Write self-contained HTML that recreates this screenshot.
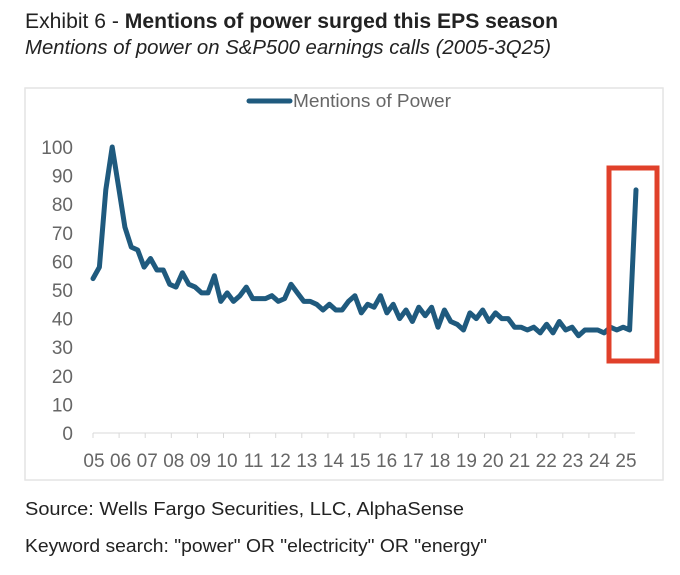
<!DOCTYPE html>
<html><head><meta charset="utf-8"><style>
body{margin:0;background:#fff;width:680px;height:570px;overflow:hidden;font-family:"Liberation Sans",sans-serif}
</style></head><body>
<svg width="680" height="570" xmlns="http://www.w3.org/2000/svg" font-family="Liberation Sans, sans-serif">
<text x="25" y="28" font-size="21" fill="#222" textLength="533" lengthAdjust="spacingAndGlyphs">Exhibit 6 - <tspan font-weight="bold">Mentions of power surged this EPS season</tspan></text>
<text x="25" y="54" font-size="20" font-style="italic" fill="#222" textLength="526" lengthAdjust="spacingAndGlyphs">Mentions of power on S&amp;P500 earnings calls (2005-3Q25)</text>
<rect x="25" y="88" width="638" height="392" fill="none" stroke="#e4e4e4" stroke-width="1.5"/>
<line x1="249" y1="101" x2="290" y2="101" stroke="#1f5a7e" stroke-width="5" stroke-linecap="round"/>
<text x="293" y="107" font-size="18" fill="#666" textLength="158" lengthAdjust="spacingAndGlyphs">Mentions of Power</text>
<g font-size="19" fill="#666" text-anchor="end" id="yl"></g>
<line x1="93" y1="433" x2="635" y2="433" stroke="#d9d9d9" stroke-width="1"/>
<g id="xt" stroke="#d9d9d9"></g>
<g id="xl" font-size="19" fill="#666" text-anchor="middle"></g>
<polyline id="ln" fill="none" stroke="#1f5a7e" stroke-width="5" stroke-linejoin="round" stroke-linecap="round"/>
<rect x="609" y="168" width="48" height="193" fill="none" stroke="#e0402a" stroke-width="5"/>
<text x="25" y="515" font-size="18" fill="#222" textLength="439" lengthAdjust="spacingAndGlyphs">Source: Wells Fargo Securities, LLC, AlphaSense</text>
<text x="25" y="552" font-size="18" fill="#222" textLength="462" lengthAdjust="spacingAndGlyphs">Keyword search: "power" OR "electricity" OR "energy"</text>
</svg>
<script>
var ns="http://www.w3.org/2000/svg";
function y(v){return 433-v*2.86;}
var yl=document.getElementById("yl");
for(var v=0;v<=100;v+=10){var t=document.createElementNS(ns,"text");t.setAttribute("x",73);t.setAttribute("y",y(v)+7);t.textContent=v;yl.appendChild(t);}
var xt=document.getElementById("xt"),xl=document.getElementById("xl");
for(var i=0;i<=20;i++){var x=93+i*26.1;var l=document.createElementNS(ns,"line");l.setAttribute("x1",x);l.setAttribute("x2",x);l.setAttribute("y1",433);l.setAttribute("y2",438);xt.appendChild(l);
var t=document.createElementNS(ns,"text");t.setAttribute("x",(94+i*26.6).toFixed(1));t.setAttribute("y",467);t.textContent=(i+5<10?"0":"")+(i+5);xl.appendChild(t);}
var d=[54,58,85,100,86,72,65,64,58,61,57,57,52,51,56,52,51,49,49,55,46,49,46,48,51,47,47,47,48,46,47,52,49,46,46,45,43,45,43,43,46,48,42,45,44,48,42,45,40,43,39,44,41,44,37,43,39,38,36,42,40,43,39,42,40,40,37,37,36,37,35,38,35,39,36,37,34,36,36,36,35,37,36,37,36,85];
var n=d.length,p=[];for(var q=0;q<n;q++){p.push((93+q*(636-93)/(n-1)).toFixed(1)+","+y(d[q]).toFixed(1));}
document.getElementById("ln").setAttribute("points",p.join(" "));
</script>
</body></html>
